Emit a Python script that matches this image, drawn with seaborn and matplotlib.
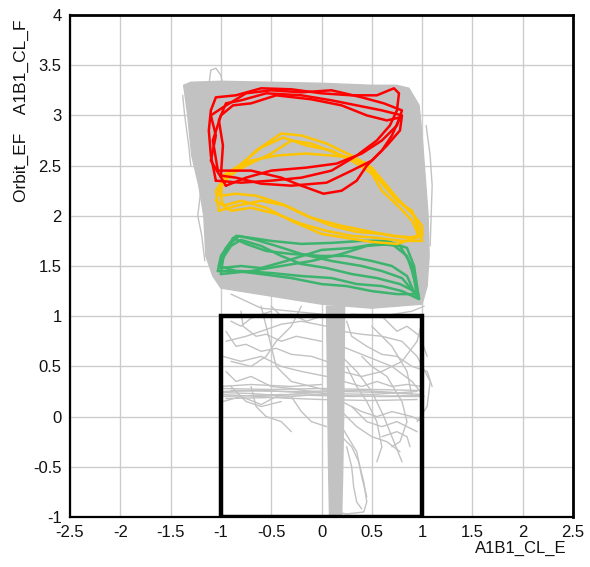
import numpy as np
import pandas as pd
import matplotlib
matplotlib.use("Agg")
import matplotlib.pyplot as plt
import seaborn as sns

# ---------------- data ----------------
X_TICKS = [-2.5, -2, -1.5, -1, -0.5, 0, 0.5, 1, 1.5, 2, 2.5]
Y_TICKS = [-1, -0.5, 0, 0.5, 1, 1.5, 2, 2.5, 3, 3.5, 4]
X_LABEL = "A1B1_CL_E"
Y_LABEL = "Orbit_EF    A1B1_CL_F"

# dense grey cloud (upper block) outline
BLOB_X = [-1.37, -1.30, -1.00, -0.50, 0.00, 0.50, 0.75, 0.87, 0.97, 1.00, 1.03, 1.06, 1.07,
          1.05, 1.00, 0.50, 0.00, -0.50, -1.00, -1.08, -1.15, -1.17, -1.22, -1.29, -1.33]
BLOB_Y = [3.30, 3.33, 3.34, 3.33, 3.32, 3.30, 3.30, 3.27, 3.10, 2.80, 2.40, 2.00, 1.60,
          1.30, 1.12, 1.08, 1.12, 1.20, 1.28, 1.40, 1.60, 2.00, 2.30, 2.60, 3.00]

# dense vertical stripe in the lower square
STRIPE_X = [0.05, 0.23, 0.22, 0.21, 0.20, 0.08, 0.07, 0.06]
STRIPE_Y = [1.10, 1.10, 0.00, -0.60, -1.00, -1.00, -0.50, 0.30]

GREY_PATHS = [
    [(-0.95, 0.75), (-0.75, 0.80), (-0.60, 0.85), (-0.40, 0.92), (-0.20, 0.95), (0.05, 0.90)],
    [(-0.60, 1.10), (-0.55, 0.90), (-0.50, 0.70), (-0.45, 0.50), (-0.30, 0.35), (-0.10, 0.30), (0.10, 0.25)],
    [(-0.98, 0.60), (-0.80, 0.55), (-0.60, 0.60), (-0.40, 0.50), (-0.20, 0.45), (0.05, 0.40)],
    [(-0.95, 0.45), (-0.85, 0.35), (-0.70, 0.40), (-0.50, 0.30), (-0.30, 0.28), (0.10, 0.22)],
    [(0.20, 0.85), (0.40, 0.82), (0.60, 0.80), (0.80, 0.75), (0.95, 0.60), (1.08, 0.35), (1.05, 0.10), (0.95, -0.05)],
    [(0.20, 0.60), (0.35, 0.45), (0.50, 0.25), (0.62, 0.00), (0.72, -0.25), (0.80, -0.45)],
    [(0.20, 0.70), (0.45, 0.60), (0.70, 0.50), (0.90, 0.35), (1.02, 0.20)],
    [(0.20, 0.05), (0.35, -0.10), (0.50, -0.20), (0.65, -0.25), (0.78, -0.35)],
    [(0.20, 0.45), (0.40, 0.40), (0.60, 0.45), (0.80, 0.55), (0.95, 0.75), (1.00, 0.95)],
    [(0.20, -0.20), (0.30, -0.30), (0.37, -0.45), (0.42, -0.65), (0.45, -0.85), (0.42, -0.95), (0.25, -0.97), (0.15, -0.95)],
    [(0.20, -0.10), (0.35, -0.35), (0.40, -0.60), (0.45, -0.80)],
    [(-0.20, 1.10), (-0.30, 0.90), (-0.45, 0.75), (-0.55, 0.60), (-0.70, 0.50), (-0.90, 0.55)],
    [(-0.90, 0.95), (-0.80, 0.90), (-0.70, 0.98), (-0.50, 1.05)],
    [(-0.30, 0.20), (-0.20, 0.05), (-0.10, -0.05), (0.05, -0.10)],
    [(-0.90, 0.30), (-0.75, 0.15), (-0.60, 0.10), (-0.40, 0.15)],
    [(0.20, 0.15), (0.40, 0.05), (0.55, 0.00), (0.70, 0.05), (0.90, 0.00), (1.00, -0.05)],
    [(0.50, 0.90), (0.70, 0.70), (0.85, 0.45), (0.90, 0.20)],
    [(0.60, -0.20), (0.75, -0.15), (0.85, -0.20), (0.88, -0.30)],
    [(-0.95, 0.85), (-0.85, 0.70), (-0.75, 0.72), (-0.60, 0.65), (-0.45, 0.68), (-0.30, 0.62), (-0.10, 0.60), (0.05, 0.55)],
    [(-0.80, 1.05), (-0.78, 0.90), (-0.65, 0.80), (-0.55, 0.82), (-0.40, 0.75), (-0.25, 0.80), (0.00, 0.75)],
    [(-0.98, 0.15), (-0.80, 0.20), (-0.60, 0.12), (-0.45, 0.20), (-0.30, 0.18)],
    [(-0.70, 0.30), (-0.65, 0.10), (-0.55, 0.00), (-0.40, -0.05), (-0.30, -0.15)],
    [(0.25, 0.95), (0.30, 0.80), (0.45, 0.70), (0.60, 0.62), (0.75, 0.60), (0.90, 0.50), (1.05, 0.45), (1.10, 0.30)],
    [(0.22, 0.35), (0.40, 0.30), (0.55, 0.35), (0.70, 0.30), (0.85, 0.32), (1.00, 0.30)],
    [(0.30, 0.10), (0.45, -0.05), (0.60, -0.10), (0.75, -0.05), (0.85, -0.10), (0.95, -0.15)],
    [(0.25, 0.50), (0.35, 0.30), (0.45, 0.15), (0.55, -0.05), (0.60, -0.30), (0.55, -0.45)],
    [(0.60, 1.00), (0.75, 0.85), (0.85, 0.90), (0.98, 0.80), (1.05, 0.60)],
    [(-0.50, 1.10), (-0.40, 1.00), (-0.30, 1.02), (-0.15, 0.95), (0.00, 1.00)],
    [(0.25, -0.30), (0.30, -0.50), (0.32, -0.70), (0.35, -0.85), (0.40, -0.92)],
    [(0.40, 0.60), (0.50, 0.50), (0.65, 0.40), (0.80, 0.15), (0.85, -0.05), (0.78, -0.25), (0.70, -0.30)],
    [(-1.00, 0.25), (-0.60, 0.26), (-0.20, 0.24), (0.20, 0.25), (0.60, 0.24), (1.00, 0.22)],
    [(-1.00, 0.22), (-0.60, 0.20), (-0.20, 0.23), (0.20, 0.21), (0.60, 0.20), (1.00, 0.20)],
    [(-1.00, 0.28), (-0.50, 0.27), (0.00, 0.28), (0.50, 0.27), (1.00, 0.26)],
    [(-0.95, 0.18), (-0.50, 0.19), (0.00, 0.17), (0.50, 0.16), (0.95, 0.17)],
    [(-1.00, 0.24), (-0.70, 0.23), (-0.30, 0.20), (0.10, 0.23), (0.50, 0.22), (0.95, 0.25)],
    [(-0.98, 0.20), (-0.40, 0.22), (0.30, 0.20), (0.98, 0.21)],
    [(-0.90, 0.26), (-0.30, 0.25), (0.40, 0.26), (0.90, 0.23)],
    [(-1.00, 0.30), (-0.70, 0.32), (-0.30, 0.30), (0.00, 0.32)],
    [(-1.12, 3.30), (-1.10, 3.45), (-1.05, 3.47), (-1.00, 3.40), (-0.98, 3.30)],
    [(-1.38, 3.20), (-1.36, 3.00), (-1.32, 2.70), (-1.30, 2.50)],
    [(-1.20, 2.25), (-1.23, 2.00), (-1.19, 1.80), (-1.16, 1.55)],
    [(1.04, 2.90), (1.08, 2.60), (1.10, 2.30), (1.09, 2.00), (1.08, 1.70)],
    [(-0.90, 1.22), (-0.60, 1.08), (-0.30, 1.05), (0.00, 1.02)],
    [(0.30, 1.02), (0.60, 1.00), (0.90, 1.05), (1.02, 1.10)],
]

RED_LOOPS = [
    [(-1.05, 2.35), (-1.10, 2.60), (-1.12, 2.85), (-1.10, 3.05), (-1.05, 3.18), (-0.85, 3.20), (-0.60, 3.27), (-0.30, 3.26),
     (0.00, 3.22), (0.30, 3.20), (0.55, 3.20), (0.72, 3.27), (0.77, 3.22), (0.75, 3.05), (0.68, 2.90), (0.55, 2.75),
     (0.35, 2.60), (0.10, 2.45), (-0.20, 2.38), (-0.50, 2.35), (-0.80, 2.33), (-1.05, 2.35)],
    [(-1.00, 2.40), (-0.98, 2.70), (-1.02, 2.95), (-0.95, 3.12), (-0.80, 3.15), (-0.55, 3.22), (-0.20, 3.20), (0.10, 3.15),
     (0.35, 3.10), (0.60, 3.05), (0.80, 3.00), (0.78, 2.85), (0.65, 2.70), (0.50, 2.55), (0.30, 2.45), (0.05, 2.33),
     (-0.30, 2.30), (-0.60, 2.32), (-0.85, 2.38), (-1.00, 2.40)],
    [(-1.03, 2.45), (-1.08, 2.75), (-1.00, 3.00), (-0.88, 3.10), (-0.70, 3.12), (-0.45, 3.20), (-0.10, 3.16), (0.20, 3.10),
     (0.45, 3.00), (0.65, 2.95), (0.78, 2.98), (0.70, 2.80), (0.60, 2.65), (0.45, 2.50), (0.35, 2.35), (0.20, 2.25),
     (0.02, 2.22), (-0.20, 2.30), (-0.40, 2.38), (-0.70, 2.45), (-1.03, 2.45)],
    [(-0.95, 2.30), (-1.10, 2.55), (-1.05, 2.80), (-1.10, 3.00), (-0.98, 3.08), (-0.75, 3.22), (-0.50, 3.25), (-0.20, 3.23),
     (0.10, 3.25), (0.40, 3.18), (0.62, 3.12), (0.80, 3.05), (0.75, 2.90), (0.60, 2.75), (0.40, 2.62), (0.15, 2.52),
     (-0.15, 2.48), (-0.50, 2.45), (-0.75, 2.38), (-0.95, 2.30)],
]

YELLOW_LOOPS = [
    [(-1.05, 2.15), (-1.00, 2.30), (-0.85, 2.45), (-0.65, 2.65), (-0.40, 2.82), (-0.20, 2.80), (0.05, 2.72), (0.30, 2.60),
     (0.50, 2.48), (0.65, 2.30), (0.80, 2.12), (0.92, 2.00), (0.98, 1.85), (1.00, 1.75), (0.80, 1.75), (0.55, 1.78),
     (0.30, 1.80), (0.05, 1.85), (-0.20, 1.92), (-0.45, 2.02), (-0.70, 2.08), (-0.90, 2.05), (-1.05, 2.15)],
    [(-1.02, 2.05), (-1.05, 2.25), (-0.95, 2.38), (-0.75, 2.50), (-0.50, 2.62), (-0.30, 2.75), (-0.10, 2.72), (0.15, 2.62),
     (0.35, 2.55), (0.52, 2.45), (0.62, 2.30), (0.75, 2.15), (0.90, 2.05), (0.95, 1.90), (0.95, 1.78), (0.70, 1.80),
     (0.45, 1.85), (0.20, 1.90), (-0.10, 1.98), (-0.35, 2.10), (-0.60, 2.15), (-0.85, 2.10), (-1.02, 2.05)],
    [(-0.98, 2.10), (-1.02, 2.30), (-0.90, 2.45), (-0.70, 2.55), (-0.45, 2.60), (-0.15, 2.62), (0.10, 2.60), (0.30, 2.58),
     (0.45, 2.52), (0.55, 2.38), (0.70, 2.22), (0.88, 2.05), (1.00, 1.90), (1.00, 1.80), (0.75, 1.72), (0.50, 1.74),
     (0.25, 1.78), (0.00, 1.82), (-0.30, 1.95), (-0.55, 2.08), (-0.80, 2.15), (-0.98, 2.10)],
    [(-1.00, 2.20), (-0.98, 2.40), (-0.82, 2.50), (-0.60, 2.68), (-0.38, 2.78), (-0.15, 2.70), (0.10, 2.65), (0.35, 2.52),
     (0.50, 2.42), (0.60, 2.25), (0.78, 2.08), (0.90, 1.95), (0.97, 1.80), (0.85, 1.78), (0.60, 1.82), (0.35, 1.84),
     (0.10, 1.90), (-0.15, 2.00), (-0.40, 2.12), (-0.65, 2.20), (-0.85, 2.22), (-1.00, 2.20)],
]

GREEN_LOOPS = [
    [(-1.03, 1.45), (-1.00, 1.60), (-0.92, 1.72), (-0.85, 1.80), (-0.70, 1.78), (-0.50, 1.75), (-0.20, 1.72), (0.10, 1.73),
     (0.40, 1.75), (0.65, 1.75), (0.85, 1.68), (0.92, 1.50), (0.95, 1.30), (0.97, 1.17), (0.80, 1.25), (0.60, 1.30),
     (0.35, 1.32), (0.10, 1.38), (-0.20, 1.40), (-0.50, 1.43), (-0.80, 1.45), (-1.03, 1.45)],
    [(-1.00, 1.42), (-0.98, 1.58), (-0.90, 1.70), (-0.80, 1.76), (-0.60, 1.70), (-0.40, 1.60), (-0.20, 1.52), (0.05, 1.48),
     (0.30, 1.42), (0.55, 1.38), (0.78, 1.32), (0.92, 1.25), (0.97, 1.18), (0.90, 1.45), (0.85, 1.60), (0.70, 1.72),
     (0.45, 1.70), (0.20, 1.62), (-0.10, 1.55), (-0.40, 1.50), (-0.70, 1.45), (-1.00, 1.42)],
    [(-1.02, 1.50), (-0.95, 1.65), (-0.88, 1.78), (-0.75, 1.72), (-0.55, 1.65), (-0.30, 1.62), (0.00, 1.60), (0.25, 1.60),
     (0.50, 1.55), (0.70, 1.50), (0.85, 1.40), (0.93, 1.22), (0.75, 1.22), (0.50, 1.25), (0.25, 1.30), (0.00, 1.32),
     (-0.30, 1.38), (-0.60, 1.42), (-0.85, 1.45), (-1.02, 1.50)],
    [(-1.00, 1.48), (-0.95, 1.68), (-0.82, 1.80), (-0.65, 1.76), (-0.45, 1.70), (-0.20, 1.62), (0.10, 1.55), (0.40, 1.50),
     (0.60, 1.45), (0.80, 1.38), (0.95, 1.20), (0.90, 1.50), (0.78, 1.70), (0.55, 1.72), (0.30, 1.68), (0.00, 1.66),
     (-0.35, 1.55), (-0.60, 1.48), (-0.80, 1.50), (-1.00, 1.48)],
]

BOX_X = [-1, 1, 1, -1, -1]
BOX_Y = [-1, -1, 1, 1, -1]


def to_frame(paths):
    rows = []
    for i, p in enumerate(paths):
        for j, (x, y) in enumerate(p):
            rows.append((i, j, x, y))
    return pd.DataFrame(rows, columns=["path", "step", "x", "y"])


# ---------------- figure ----------------
sns.set_style("white")
plt.rcParams["font.family"] = ["Liberation Sans", "DejaVu Sans"]

fig = plt.figure(figsize=(5.90, 5.67), dpi=100)
ax = fig.add_axes([70 / 590, 50 / 567, 503 / 590, 502 / 567])

GREY = "#c2c2c2"
ax.fill(BLOB_X, BLOB_Y, color=GREY, lw=1.0, zorder=2)
ax.fill(STRIPE_X, STRIPE_Y, color=GREY, lw=1.0, zorder=2)

sns.lineplot(data=to_frame(GREY_PATHS), x="x", y="y", units="path", estimator=None,
             sort=False, color=GREY, lw=1.0, ax=ax, legend=False, zorder=3)
sns.lineplot(data=to_frame(GREEN_LOOPS), x="x", y="y", units="path", estimator=None,
             sort=False, color="#3cb46e", lw=1.8, ax=ax, legend=False, zorder=4)
sns.lineplot(data=to_frame(YELLOW_LOOPS), x="x", y="y", units="path", estimator=None,
             sort=False, color="#ffc400", lw=1.8, ax=ax, legend=False, zorder=5)
sns.lineplot(data=to_frame(RED_LOOPS), x="x", y="y", units="path", estimator=None,
             sort=False, color="#ff0000", lw=1.8, ax=ax, legend=False, zorder=6)

ax.plot(BOX_X, BOX_Y, color="black", lw=3.2, zorder=7, solid_joinstyle="miter")

ax.set_xlim(-2.5, 2.5)
ax.set_ylim(-1, 4)
ax.set_xticks(X_TICKS)
ax.set_yticks(Y_TICKS)
ax.set_xticklabels([f"{t:g}" for t in X_TICKS])
ax.set_yticklabels([f"{t:g}" for t in Y_TICKS])
ax.set_axisbelow(True)
ax.grid(True, color="#cccccc", lw=1.0)
ax.tick_params(axis="both", direction="out", length=4, width=1, color="black",
               labelsize=12, labelcolor="#111111", pad=2)
for s in ax.spines.values():
    s.set_visible(True)
    s.set_color("black")
    s.set_linewidth(1.6)
ax.spines["top"].set_linewidth(2.0)
ax.spines["right"].set_linewidth(2.0)
ax.set_xlabel("")
ax.set_ylabel("")

ax.text(0.988, -0.062, X_LABEL, transform=ax.transAxes, ha="right", va="center",
        fontsize=12, color="#111111")
ax.text(-0.097, 0.81, Y_LABEL, transform=ax.transAxes, ha="center", va="center",
        rotation=90, fontsize=12.5, color="#111111")

fig.savefig("out.png", dpi=100)
